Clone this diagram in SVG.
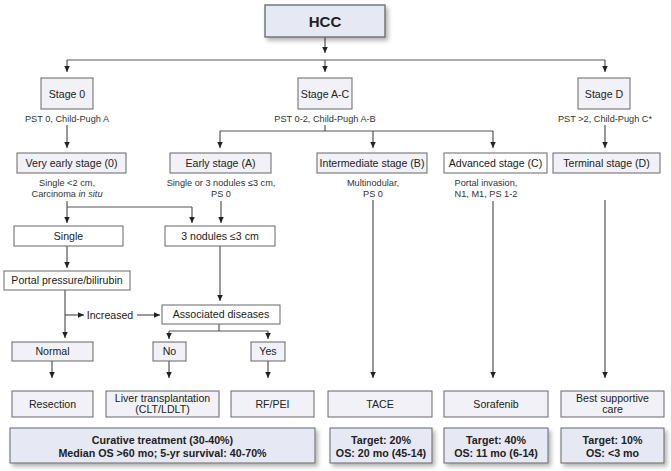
<svg xmlns="http://www.w3.org/2000/svg" width="671" height="471" viewBox="0 0 671 471">
<defs>
<style>
text{font-family:"Liberation Sans",Arial,sans-serif;fill:#222;text-anchor:middle}
.b{stroke:#666;stroke-width:1}
.lav{fill:#e6e8f3}
.lt{fill:#f1f1f7}
.wh{fill:#fff}
.lbl{font-size:10.6px}
.ann{font-size:9.2px;fill:#333}
.bold{font-size:10.7px;font-weight:bold}
.c line,.c path{stroke:#555;stroke-width:1.2;fill:none}
.arr{marker-end:url(#ah)}
</style>
<marker id="ah" markerWidth="6" markerHeight="6" refX="6" refY="2.75" orient="auto" markerUnits="userSpaceOnUse">
<path d="M0,0 L6,2.75 L0,5.5 Z" fill="#222"/>
</marker>
<filter id="sh" x="-10%" y="-20%" width="125%" height="160%">
<feDropShadow dx="2.5" dy="3" stdDeviation="2" flood-color="#000" flood-opacity="0.3"/>
</filter>
</defs>
<rect width="671" height="471" fill="#fff"/>

<g id="connectors" class="c">
<line class="arr" x1="325" y1="37" x2="325" y2="53"/>
<line x1="67" y1="60" x2="605" y2="60"/>
<line class="arr" x1="67" y1="60" x2="67" y2="72"/>
<line class="arr" x1="325" y1="60" x2="325" y2="72"/>
<line class="arr" x1="605" y1="60" x2="605" y2="72"/>
<line class="arr" x1="67" y1="125" x2="67" y2="148"/>
<line x1="325" y1="125" x2="325" y2="131"/>
<line x1="220" y1="131" x2="493" y2="131"/>
<line class="arr" x1="220" y1="131" x2="220" y2="148"/>
<line class="arr" x1="373" y1="131" x2="373" y2="148"/>
<line class="arr" x1="493" y1="131" x2="493" y2="148"/>
<line class="arr" x1="605" y1="125" x2="605" y2="148"/>
<line class="arr" x1="67" y1="201" x2="67" y2="223"/>
<line x1="67" y1="207" x2="192" y2="207"/>
<line class="arr" x1="192" y1="207" x2="192" y2="223"/>
<line class="arr" x1="221" y1="201" x2="221" y2="223"/>
<line class="arr" x1="373" y1="200" x2="373" y2="378"/>
<line class="arr" x1="493" y1="201" x2="493" y2="378"/>
<line class="arr" x1="605" y1="200" x2="605" y2="378"/>
<line class="arr" x1="67" y1="246" x2="67" y2="268"/>
<line class="arr" x1="65" y1="290" x2="65" y2="338"/>
<line class="arr" x1="65" y1="315" x2="84" y2="315"/>
<line class="arr" x1="137" y1="315" x2="160" y2="315"/>
<line class="arr" x1="220" y1="246" x2="220" y2="301"/>
<line x1="219" y1="324" x2="219" y2="331"/>
<line x1="169" y1="331" x2="268" y2="331"/>
<line class="arr" x1="169" y1="331" x2="169" y2="339"/>
<line class="arr" x1="268" y1="331" x2="268" y2="339"/>
<line class="arr" x1="52" y1="361" x2="52" y2="378"/>
<line class="arr" x1="169" y1="361" x2="169" y2="378"/>
<line class="arr" x1="268" y1="361" x2="268" y2="378"/>
</g>

<g id="hcc"><rect class="b lav" x="265" y="5" width="120" height="32" filter="url(#sh)" stroke="#555" style="stroke-width:1.3"/><text x="325" y="26.5" style="font-size:15px;font-weight:bold">HCC</text></g>

<g id="stage0"><rect class="b lt" x="41" y="78" width="52" height="31"/><text class="lbl" x="67" y="97.5">Stage 0</text><text class="ann" x="67" y="121.5">PST 0, Child-Pugh A</text></g>
<g id="stageAC"><rect class="b lt" x="298" y="78" width="54" height="31"/><text class="lbl" x="325" y="97.5">Stage A-C</text><text class="ann" x="325" y="121.5">PST 0-2, Child-Pugh A-B</text></g>
<g id="stageD"><rect class="b lt" x="578" y="78" width="52" height="31"/><text class="lbl" x="604" y="97.5">Stage D</text><text class="ann" x="605" y="121.5">PST &gt;2, Child-Pugh C*</text></g>

<g id="veryearly"><rect class="b lt" x="17" y="153" width="109" height="20"/><text class="lbl" x="71.5" y="166.8">Very early stage (0)</text><text class="ann" x="67" y="186">Single &lt;2 cm,</text><text class="ann" x="67" y="197">Carcinoma <tspan font-style="italic">in situ</tspan></text></g>
<g id="early"><rect class="b lt" x="170" y="153" width="101" height="20"/><text class="lbl" x="220.5" y="166.8">Early stage (A)</text><text class="ann" x="221" y="186">Single or 3 nodules ≤3 cm,</text><text class="ann" x="221" y="197">PS 0</text></g>
<g id="intermediate"><rect class="b lt" x="317" y="153" width="110" height="20"/><text class="lbl" x="372" y="166.8">Intermediate stage (B)</text><text class="ann" x="373" y="186">Multinodular,</text><text class="ann" x="373" y="197">PS 0</text></g>
<g id="advanced"><rect class="b wh" x="444" y="153" width="103" height="20"/><text class="lbl" x="495.5" y="166.8">Advanced stage (C)</text><text class="ann" x="486" y="186">Portal invasion,</text><text class="ann" x="486" y="197">N1, M1, PS 1-2</text></g>
<g id="terminal"><rect class="b lt" x="553" y="153" width="107" height="20"/><text class="lbl" x="606.5" y="166.8">Terminal stage (D)</text></g>

<g id="single"><rect class="b wh" x="14" y="226" width="109" height="20"/><text class="lbl" x="68.5" y="239.8">Single</text></g>
<g id="nodules"><rect class="b wh" x="165" y="226" width="110" height="20"/><text class="lbl" x="220" y="239.8">3 nodules ≤3 cm</text></g>
<g id="portal"><rect class="b wh" x="4" y="271" width="126" height="19"/><text class="lbl" x="67" y="284.3">Portal pressure/bilirubin</text></g>
<g id="increased"><text class="lbl" x="110" y="318.8">Increased</text></g>
<g id="assoc"><rect class="b wh" x="162" y="305" width="118" height="19"/><text class="lbl" x="221" y="318.3">Associated diseases</text></g>
<g id="normal"><rect class="b lt" x="12" y="342" width="81" height="19"/><text class="lbl" x="52.5" y="355.3">Normal</text></g>
<g id="no"><rect class="b lt" x="153" y="342" width="33" height="19"/><text class="lbl" x="169.5" y="355.3">No</text></g>
<g id="yes"><rect class="b lt" x="251" y="342" width="34" height="19"/><text class="lbl" x="268" y="355.3">Yes</text></g>

<g id="resection"><rect class="b lt" x="12" y="391" width="81" height="26"/><text class="lbl" x="52.5" y="407.5">Resection</text></g>
<g id="liver"><rect class="b lt" x="106" y="391" width="113" height="26"/><text class="lbl" x="162.5" y="401.5">Liver transplantation</text><text class="lbl" x="162.5" y="413">(CLT/LDLT)</text></g>
<g id="rfpei"><rect class="b lt" x="231" y="391" width="83" height="26"/><text class="lbl" x="272.5" y="407.5">RF/PEI</text></g>
<g id="tace"><rect class="b lt" x="328" y="391" width="104" height="26"/><text class="lbl" x="380" y="407.5">TACE</text></g>
<g id="sorafenib"><rect class="b lt" x="444" y="391" width="104" height="26"/><text class="lbl" x="496" y="407.5">Sorafenib</text></g>
<g id="bsc"><rect class="b lt" x="561" y="391" width="103" height="26"/><text class="lbl" x="612.5" y="401.5">Best supportive</text><text class="lbl" x="612.5" y="413">care</text></g>

<g id="curative"><rect class="b lav" x="10" y="428" width="305" height="35" filter="url(#sh)"/><text class="bold" x="162.5" y="443.5">Curative treatment (30-40%)</text><text class="bold" x="162.5" y="456.5">Median OS &gt;60 mo; 5-yr survival: 40-70%</text></g>
<g id="tacetarget"><rect class="b lav" x="330" y="428" width="102" height="35" filter="url(#sh)"/><text class="bold" x="381" y="443.5">Target: 20%</text><text class="bold" x="381" y="456.5">OS: 20 mo (45-14)</text></g>
<g id="soratarget"><rect class="b lav" x="444" y="428" width="104" height="35" filter="url(#sh)"/><text class="bold" x="496" y="443.5">Target: 40%</text><text class="bold" x="496" y="456.5">OS: 11 mo (6-14)</text></g>
<g id="bsctarget"><rect class="b lav" x="561" y="428" width="103" height="35" filter="url(#sh)"/><text class="bold" x="612.5" y="443.5">Target: 10%</text><text class="bold" x="612.5" y="456.5">OS: &lt;3 mo</text></g>
</svg>
